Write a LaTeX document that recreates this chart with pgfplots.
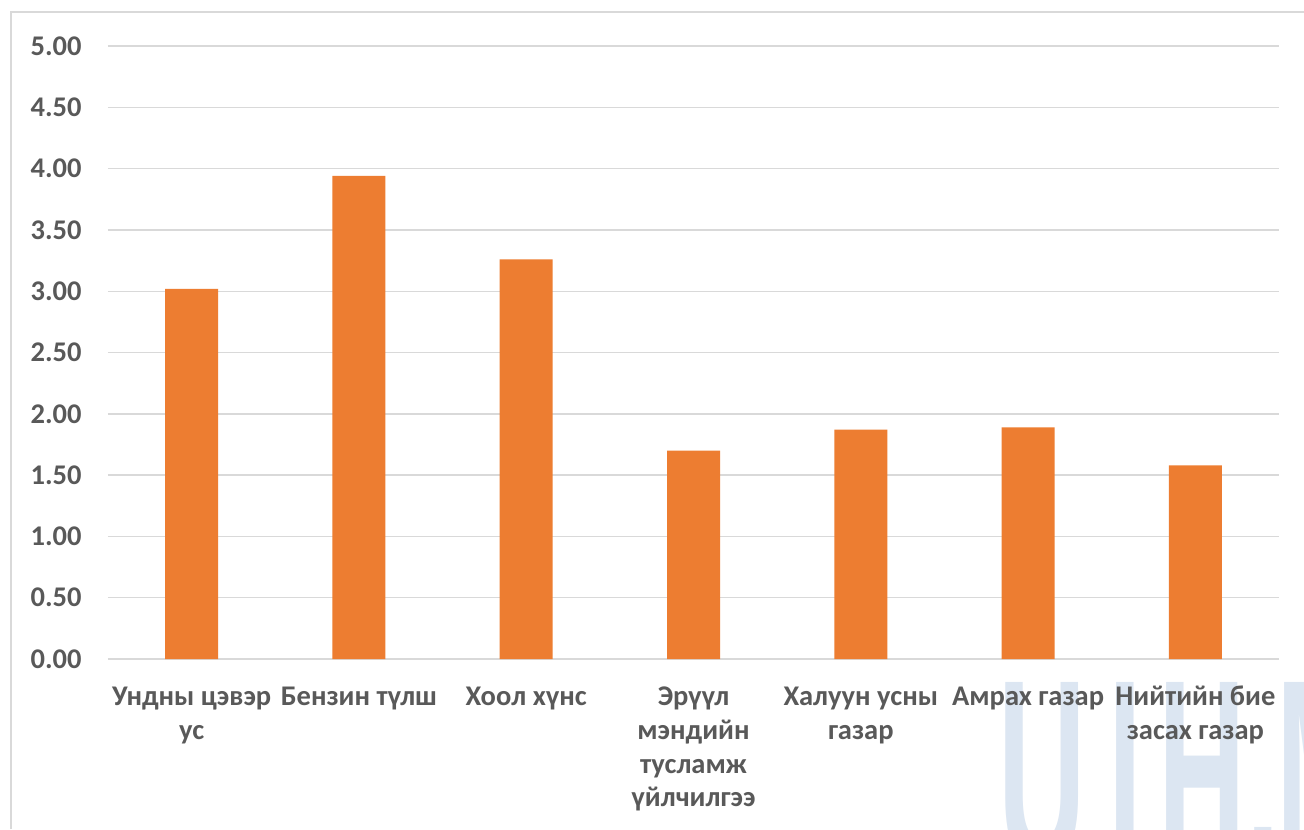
\documentclass[border=0pt]{standalone}
\usepackage{fontspec}
\setmainfont{Carlito}
\newfontfamily\wmfont{Liberation Sans}
\usepackage{pgfplots}
\pgfplotsset{compat=1.18}
\definecolor{barc}{HTML}{ED7D31}
\definecolor{txt}{HTML}{595959}
\definecolor{grd}{HTML}{D9D9D9}
\definecolor{wm}{HTML}{DCE6F2}
\begin{document}
\begin{tikzpicture}[x=1bp,y=1bp]
\useasboundingbox (-54,-85) rectangle (598,329.5);
\fill[white] (-54,-85) rectangle (598,329.5);
\foreach \l/\x in {U/445, I/500, H/525, ./569, M/584}
  \node[anchor=base west, inner sep=0, text=wm, font=\wmfont\bfseries\fontsize{135}{135}\selectfont, xscale=0.45] at (\x,-104) {\l};
\draw[grd, line width=1bp] (-48.5,-85) -- (-48.5,323.5) -- (598,323.5);
\begin{axis}[
  at={(0,0)}, anchor=south west,
  scale only axis, width=585.5bp, height=306.5bp,
  xmin=-0.5, xmax=6.5, ymin=0, ymax=5,
  ytick={0,0.5,1,1.5,2,2.5,3,3.5,4,4.5,5},
  xtick={0,1,2,3,4,5,6},
  xticklabels={
    {\strut Ундны цэвэр\\ус},
    {\strut Бензин түлш},
    {\strut Хоол хүнс},
    {\strut Эрүүл\\мэндийн\\тусламж\\үйлчилгээ},
    {\strut Халуун усны\\газар},
    {\strut Амрах газар},
    {\strut Нийтийн бие\\засах газар}},
  axis line style={draw=none},
  ymajorgrids, grid style={grd, line width=0.7bp},
  major tick length=0,
  ticklabel style={font=\bfseries\fontsize{14.3}{17}\selectfont, text=txt},
  yticklabel style={anchor=east, inner sep=0, xshift=-13bp,
    /pgf/number format/.cd, fixed, fixed zerofill, precision=2, assume math mode=true},
  xticklabel style={anchor=north, inner sep=0, yshift=-11.1bp, align=center},
]
\addplot[ybar, bar width=26.5bp, fill=barc, draw=none] coordinates {
  (0,3.02) (1,3.94) (2,3.26) (3,1.70) (4,1.87) (5,1.89) (6,1.58)};
\end{axis}
\end{tikzpicture}
\end{document}
